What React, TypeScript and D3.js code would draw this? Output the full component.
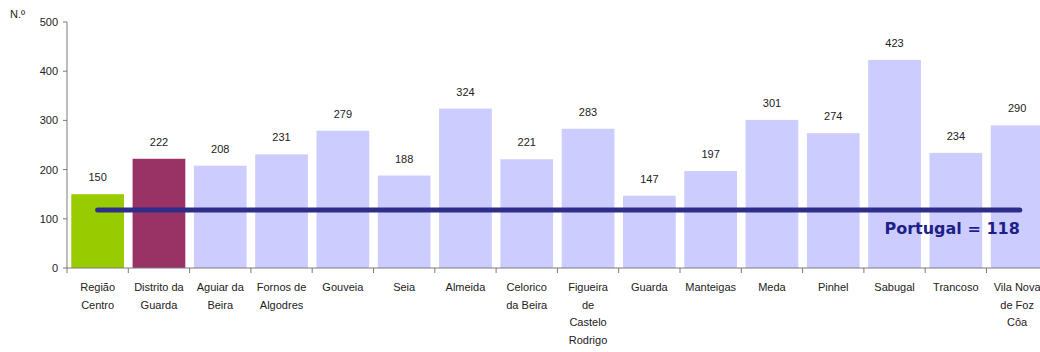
import React from "react";
import * as d3 from "d3";

const categories = [
  "Região\nCentro",
  "Distrito da\nGuarda",
  "Aguiar da\nBeira",
  "Fornos de\nAlgodres",
  "Gouveia",
  "Seia",
  "Almeida",
  "Celorico\nda Beira",
  "Figueira\nde\nCastelo\nRodrigo",
  "Guarda",
  "Manteigas",
  "Meda",
  "Pinhel",
  "Sabugal",
  "Trancoso",
  "Vila Nova\nde Foz\nCôa",
];
const values = [150, 222, 208, 231, 279, 188, 324, 221, 283, 147, 197, 301, 274, 423, 234, 290];
const barColors = ["#99CC00", "#993366"];
const defaultColor = "#CCCCFF";
const yTicks = [0, 100, 200, 300, 400, 500];
const portugalValue = 118;
const portugalLabel = "Portugal = 118";

export default function App() {
  const W = 1040;
  const H = 352;
  const x0 = 67;
  const step = 61.3;
  const x = d3
    .scaleBand<number>()
    .domain(d3.range(categories.length))
    .range([x0, x0 + step * categories.length])
    .paddingInner(0.14)
    .paddingOuter(0.07);
  const y = d3.scaleLinear().domain([0, 500]).range([268, 22]);
  const font = "'Liberation Sans', Arial, sans-serif";
  const axisColor = "#7a7a7a";
  const lineY = y(portugalValue);
  const firstCenter = x(0)! + x.bandwidth() / 2;
  const lineEnd = x(categories.length - 1)! + x.bandwidth() * 0.55;

  return (
    <svg
      width={W}
      height={H}
      style={{ position: "absolute", left: 0, top: 0, background: "#fff" }}
      fontFamily={font}
    >
      <rect width={W} height={H} fill="#fff" />
      <text x={10} y={18} fontSize={11} fill="#222">N.º</text>
      {/* bars */}
      {values.map((v, i) => (
        <rect
          key={i}
          x={x(i)}
          y={y(v)}
          width={x.bandwidth()}
          height={y(0) - y(v)}
          fill={barColors[i] ?? defaultColor}
        />
      ))}
      {/* value labels */}
      {values.map((v, i) => (
        <text
          key={"v" + i}
          x={x(i)! + x.bandwidth() / 2}
          y={y(v) - 13}
          fontSize={11}
          textAnchor="middle"
          fill="#222"
        >
          {v}
        </text>
      ))}
      {/* y axis */}
      <line x1={x0} x2={x0} y1={y(500)} y2={y(0)} stroke={axisColor} />
      {yTicks.map((t) => (
        <g key={t}>
          <line x1={x0 - 4} x2={x0} y1={y(t)} y2={y(t)} stroke={axisColor} />
          <text x={x0 - 9} y={y(t) + 4} fontSize={11} textAnchor="end" fill="#222">
            {t}
          </text>
        </g>
      ))}
      {/* x axis */}
      <line x1={x0} x2={W} y1={y(0)} y2={y(0)} stroke={axisColor} />
      {d3.range(categories.length + 1).map((i) => (
        <line
          key={"t" + i}
          x1={x0 + i * step}
          x2={x0 + i * step}
          y1={y(0)}
          y2={y(0) + 5}
          stroke={axisColor}
        />
      ))}
      {categories.map((c, i) => (
        <text
          key={"c" + i}
          x={x(i)! + x.bandwidth() / 2}
          y={291}
          fontSize={11}
          textAnchor="middle"
          fill="#222"
        >
          {c.split("\n").map((l, j) => (
            <tspan key={j} x={x(i)! + x.bandwidth() / 2} dy={j === 0 ? 0 : 17.7}>
              {l}
            </tspan>
          ))}
        </text>
      ))}
      {/* Portugal line */}
      <line
        x1={firstCenter}
        x2={lineEnd}
        y1={lineY}
        y2={lineY}
        stroke="#2E2E8A"
        strokeWidth={5}
        strokeLinecap="round"
      />
      <text
        x={lineEnd}
        y={lineY + 24}
        fontSize={16}
        fontWeight="bold"
        textAnchor="end"
        fill="#1F1F8A"
        fontFamily="'DejaVu Sans', Verdana, sans-serif"
      >
        {portugalLabel}
      </text>
    </svg>
  );
}
